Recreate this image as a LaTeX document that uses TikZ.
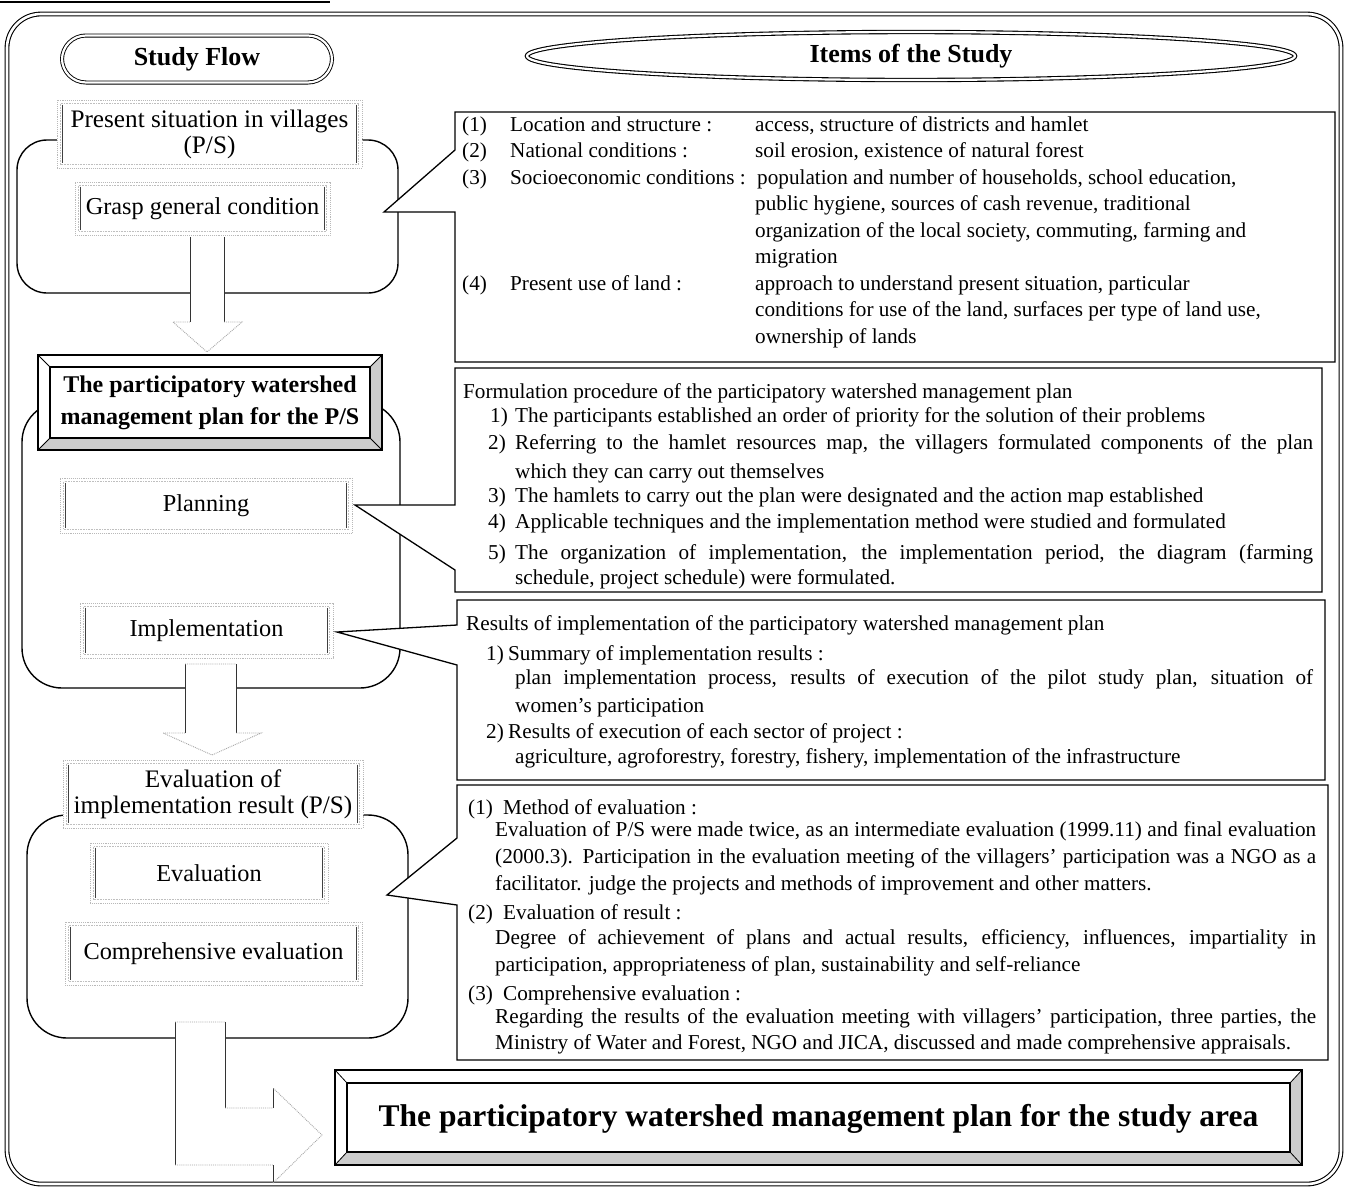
\documentclass[tikz,border=0pt]{standalone}
\usepackage{fontspec}
\setmainfont{Liberation Serif}
\usetikzlibrary{calc,shapes.geometric}

% one line of body text at its baseline
\newcommand{\bodyline}[4]{\node[body] (#1) at (#2,#3) {#4};}
% one justified line of body text, spread to a given width
\newcommand{\justline}[5]{\node[body] (#1) at (#2,#3) {\makebox[#4pt][s]{#5}};}

\begin{document}
\begin{tikzpicture}[x=1pt,y=-1pt,
  body/.style={inner sep=0pt, anchor=base west, font=\fontsize{21.2}{25}\selectfont},
  flowtext/.style={font=\fontsize{24.3}{29}\selectfont, align=center},
  bigflow/.style={font=\fontsize{25.2}{29}\selectfont},
  fbox/.style={draw=gray!55, densely dotted, line width=0.9pt, fill=white, inner sep=0pt, flowtext},
  innerside/.style={draw=black!75, line width=0.7pt},
  innerdot/.style={draw=gray!50, densely dotted, line width=0.6pt},
  group/.style={draw=black, line width=1.4pt, rounded corners=30pt},
  callout/.style={draw=black, line width=1.3pt, fill=white, line join=miter},
  shaft/.style={draw=black!80, line width=0.8pt},
  headline/.style={draw=gray!70, densely dotted, line width=0.9pt},
  bevelshade/.style={fill=gray!40, draw=none},
  bevelline/.style={draw=black, line width=1.2pt},
  dline/.style={draw=black, line width=0.9pt, double=white, double distance=2.2pt},
  titletext/.style={font=\bfseries\fontsize{26}{30}\selectfont}
]
\useasboundingbox (0,0) rectangle (1347,1187);
\fill[white] (0,0) rectangle (1347,1187);

% fragment of the frame above
\draw[line width=2pt] (0,2) -- (330,2);

% outer frame
\draw[dline, line width=1.1pt, double distance=2.6pt, rounded corners=34pt] (7,14) rectangle (1341,1184);

% column headings
\node[dline, rounded corners=24pt, minimum width=270pt, minimum height=47pt, titletext] (studyflow) at (197,59) {Study Flow};
\node[dline, line width=1.1pt, ellipse, minimum width=768pt, minimum height=48pt, inner sep=0pt, titletext] (items) at (911,56) {Items of the Study};

% stage groups
\draw[group] (17,140) rectangle (398,293);
\draw[group, rounded corners=40pt] (22,402) rectangle (400,688);
\draw[group, rounded corners=40pt] (27,815) rectangle (408,1038);

% block arrows between the stages
\coordinate (tipA) at (207,352);
\coordinate (tipB) at (212,755);
\coordinate (tipC) at (322,1135);
\fill[white] (190,237) -- (190,322) -- (173,322) -- (tipA) -- (242,322) -- (224,322) -- (224,237) -- cycle;
\draw[shaft] (190,237) -- (190,322) (224,237) -- (224,322);
\draw[headline] (190,322) -- (173,322) -- (tipA) -- (242,322) -- (224,322);

\fill[white] (185,664) -- (185,733) -- (163,733) -- (tipB) -- (261,733) -- (236,733) -- (236,664) -- cycle;
\draw[shaft] (185,664) -- (185,733) (236,664) -- (236,733);
\draw[headline] (185,733) -- (163,733) -- (tipB) -- (261,733) -- (236,733) (185,664) -- (236,664);

\fill[white] (175,1022) -- (175,1165) -- (273,1165) -- (273,1183) -- (tipC) -- (273,1088) -- (273,1108) -- (225,1108) -- (225,1022) -- cycle;
\draw[shaft] (175,1022) -- (175,1165) (225,1022) -- (225,1108) (273,1088) -- (273,1108) (273,1165) -- (273,1183);
\draw[headline] (175,1022) -- (225,1022) (225,1108) -- (273,1108) (175,1165) -- (273,1165) (273,1183) -- (tipC) -- (273,1088);

% flow boxes
\node[fbox, bigflow, minimum width=305pt, minimum height=68pt] (ps) at (209.5,134) {Present situation in villages\\[-3pt](P/S)};
\node[fbox, minimum width=255pt, minimum height=53pt] (grasp) at (202.5,208.5) {Grasp general condition};
\node[fbox, minimum width=292pt, minimum height=55pt] (plan) at (206,505.5) {Planning};
\node[fbox, minimum width=253pt, minimum height=55pt] (impl) at (206.5,630.5) {Implementation};
\node[fbox, bigflow, minimum width=300pt, minimum height=68pt] (evalps) at (213,794) {Evaluation of\\[-3pt]implementation result (P/S)};
\node[fbox, minimum width=238pt, minimum height=60pt] (evalb) at (209,873) {Evaluation};
\node[fbox, minimum width=297pt, minimum height=63pt] (compeval) at (213.5,953.5) {Comprehensive evaluation};
\foreach \n in {ps,grasp,plan,impl,evalps,evalb,compeval}{
  \draw[innerdot] ([shift={(4pt,-4pt)}]\n.north west) rectangle ([shift={(-4pt,4pt)}]\n.south east);
  \draw[innerside] ([shift={(6pt,-5pt)}]\n.north west) -- ([shift={(6pt,5pt)}]\n.south west);
  \draw[innerside] ([shift={(-6pt,-5pt)}]\n.north east) -- ([shift={(-6pt,5pt)}]\n.south east);
}

% bevelled box: plan for the P/S
\fill[white] (38,355) rectangle (382,450);
\fill[bevelshade] (38,450) -- (382,450) -- (370,438) -- (50,438) -- cycle;
\fill[bevelshade] (382,355) -- (382,450) -- (370,438) -- (370,367) -- cycle;
\draw[bevelline] (38,355) rectangle (382,450);
\draw[bevelline] (50,367) rectangle (370,438);
\draw[bevelline, line width=0.8pt] (38,355) -- (50,367) (382,355) -- (370,367) (38,450) -- (50,438) (382,450) -- (370,438);
\node[font=\bfseries\fontsize{24}{32}\selectfont, align=center] (planps) at (210,403) {The participatory watershed\\management plan for the P/S};

% bevelled box: plan for the study area
\fill[white] (335,1070) rectangle (1302,1165);
\fill[bevelshade] (335,1165) -- (1302,1165) -- (1290,1152) -- (347,1152) -- cycle;
\fill[bevelshade] (1302,1070) -- (1302,1165) -- (1290,1152) -- (1290,1083) -- cycle;
\draw[bevelline] (335,1070) rectangle (1302,1165);
\draw[bevelline] (347,1083) rectangle (1290,1152);
\draw[bevelline, line width=0.8pt] (335,1070) -- (347,1083) (1302,1070) -- (1290,1083) (335,1165) -- (347,1152) (1302,1165) -- (1290,1152);
\node[font=\bfseries\fontsize{31.5}{36}\selectfont] (final) at (818.5,1119) {The participatory watershed management plan for the study area};

% call-out boxes
\draw[callout] (455,112) -- (1335,112) -- (1335,362) -- (455,362) -- (455,212) -- (384,212) -- (455,150) -- cycle;
\draw[callout] (455,368) -- (1322,368) -- (1322,592) -- (455,592) -- (455,570) -- (355,505) -- (455,505) -- cycle;
\draw[callout] (457,600) -- (1325,600) -- (1325,780) -- (457,780) -- (457,665) -- (337,632) -- (457,625) -- cycle;
\draw[callout] (457,785) -- (1328,785) -- (1328,1060) -- (457,1060) -- (457,905) -- (387,895) -- (457,838) -- cycle;

% items: present situation
\bodyline{a1n}{462}{131}{(1)}
\bodyline{a1l}{510}{131}{Location and structure :}
\bodyline{a1v}{755}{131}{access, structure of districts and hamlet}
\bodyline{a2n}{462}{157.5}{(2)}
\bodyline{a2l}{510}{157.5}{National conditions :}
\bodyline{a2v}{755}{157.5}{soil erosion, existence of natural forest}
\bodyline{a3n}{462}{184}{(3)}
\bodyline{a3l}{510}{184}{Socioeconomic conditions :}
\bodyline{a3v}{757}{184}{population and number of households, school education,}
\bodyline{a3w}{755}{210.5}{public hygiene, sources of cash revenue, traditional}
\bodyline{a3x}{755}{237}{organization of the local society, commuting, farming and}
\bodyline{a3y}{755}{263.5}{migration}
\bodyline{a4n}{462}{290}{(4)}
\bodyline{a4l}{510}{290}{Present use of land :}
\bodyline{a4v}{755}{290}{approach to understand present situation, particular}
\bodyline{a4w}{755}{316.5}{conditions for use of the land, surfaces per type of land use,}
\bodyline{a4x}{755}{343}{ownership of lands}

% items: planning
\bodyline{b0}{463}{398}{Formulation procedure of the participatory watershed management plan}
\bodyline{b1n}{490}{422}{1)}
\bodyline{b1}{515}{422}{The participants established an order of priority for the solution of their problems}
\bodyline{b2n}{488}{449}{2)}
\justline{b2}{515}{449}{798}{Referring to the hamlet resources map, the villagers formulated components of the plan}
\bodyline{b2w}{515}{478}{which they can carry out themselves}
\bodyline{b3n}{488}{502}{3)}
\bodyline{b3}{515}{502}{The hamlets to carry out the plan were designated and the action map established}
\bodyline{b4n}{488}{528}{4)}
\bodyline{b4}{515}{528}{Applicable techniques and the implementation method were studied and formulated}
\bodyline{b5n}{488}{559}{5)}
\justline{b5}{515}{559}{798}{The organization of implementation, the implementation period, the diagram (farming}
\bodyline{b5w}{515}{584}{schedule, project schedule) were formulated.}

% items: implementation
\bodyline{c0}{466}{630}{Results of implementation of the participatory watershed management plan}
\bodyline{c1n}{486}{660}{1)}
\bodyline{c1}{508}{660}{Summary of implementation results :}
\justline{c1v}{515}{684}{798}{plan implementation process, results of execution of the pilot study plan, situation of}
\bodyline{c1w}{515}{712}{women's participation}
\bodyline{c2n}{486}{738}{2)}
\bodyline{c2}{508}{738}{Results of execution of each sector of project :}
\bodyline{c2v}{515}{763}{agriculture, agroforestry, forestry, fishery, implementation of the infrastructure}

% items: evaluation
\bodyline{d1n}{468}{814}{(1)}
\bodyline{d1}{503}{814}{Method of evaluation :}
\justline{d1v}{495}{836}{821}{Evaluation of P/S were made twice, as an intermediate evaluation (1999.11) and final evaluation}
\justline{d1w}{495}{863}{821}{(2000.3). Participation in the evaluation meeting of the villagers' participation was a NGO as a}
\bodyline{d1x}{495}{890}{facilitator. judge the projects and methods of improvement and other matters.}
\bodyline{d2n}{468}{919}{(2)}
\bodyline{d2}{503}{919}{Evaluation of result :}
\justline{d2v}{495}{944}{821}{Degree of achievement of plans and actual results, efficiency, influences, impartiality in}
\bodyline{d2w}{495}{971}{participation, appropriateness of plan, sustainability and self-reliance}
\bodyline{d3n}{468}{1000}{(3)}
\bodyline{d3}{503}{1000}{Comprehensive evaluation :}
\justline{d3v}{495}{1023}{821}{Regarding the results of the evaluation meeting with villagers' participation, three parties, the}
\bodyline{d3w}{495}{1049}{Ministry of Water and Forest, NGO and JICA, discussed and made comprehensive appraisals.}
\end{tikzpicture}
\end{document}
